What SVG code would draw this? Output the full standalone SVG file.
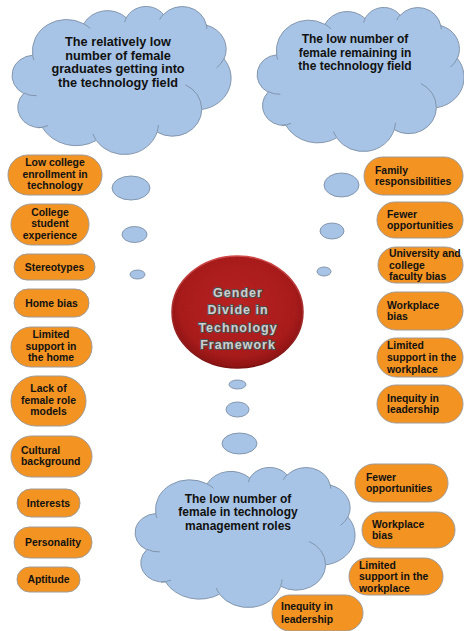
<svg xmlns="http://www.w3.org/2000/svg" xmlns:xlink="http://www.w3.org/1999/xlink" width="464" height="631" viewBox="0 0 464 631">
  <style>
    .cloud { fill: #a7c4e6; stroke: #7d8ea6; stroke-width: 0.9; }
    .crease { fill: none; stroke: #7d8ea6; stroke-width: 0.9; }
    .bubble { fill: #a7c4e6; stroke: #7d8ea6; stroke-width: 0.9; }
    .pill { fill: #f39322; stroke: #a09a94; stroke-width: 1; }
    .ct { font-family: "Liberation Sans", Arial, sans-serif; font-weight: bold; font-size: 12px; fill: #111; text-anchor: middle; }
    .ct-lg { font-size: 12.7px; }
    .bt { font-family: "Liberation Sans", Arial, sans-serif; font-weight: bold; font-size: 10.4px; fill: #111; }
    .mid { text-anchor: middle; }
    .hub { font-family: "Liberation Sans", Arial, sans-serif; font-weight: bold; font-size: 12.5px; letter-spacing: 1px; fill: #cfcfcf; stroke: #4e4e4e; stroke-width: 1.9; paint-order: stroke; stroke-linejoin: round; text-anchor: middle; }
  </style>
  <defs>
    <!-- cloud outline on a 432 x 432 unit box -->
    <path id="cloudShape" vector-effect="non-scaling-stroke" d="M39,143.7 A67.53,91.9 0 0 1 140.05,52.01 A53.33,72.67 0 0 1 224.56,34.33 A43.65,59.45 0 0 1 298.33,24.82 A48.57,65.95 0 0 1 383.18,55.77 A53.33,72.73 0 0 1 418.19,154.61 A67.75,92.2 0 0 1 374.04,302.03 A57.85,78.67 0 0 1 285.55,368.13 A67.52,92.15 0 0 1 164.81,392.66 A77.2,105.43 0 0 1 58.05,354.71 A43.6,59.18 0 0 1 21.12,255.5 A43.45,59.45 0 0 1 39,143.7 Z"/>
    <path id="cloudCrease" vector-effect="non-scaling-stroke" d="M46.93,261.77 A43.45,59.45 0 0 1 21.6,253.8 M69.28,348.99 A77.2,105.43 0 0 1 49.56,355.86 M164.78,390.9 A67.52,92.15 0 0 1 158.09,373.47 M288.27,347.51 A67.53,91.9 0 0 1 285.59,366.6 M341.29,229.54 A57.85,78.67 0 0 1 373.8,300.9 M417.98,153.54 A53.33,72.73 0 0 1 403.5,180.3 M383.24,54.26 A48.57,65.95 0 0 1 384,66.9 M290.78,39.52 A48.57,65.95 0 0 1 298.19,23.42 M221.41,47.2 A43.65,59.45 0 0 1 225,33.31 M140,51.92 A67.53,91.9 0 0 1 153.06,65.51 M41.27,157.89 A67.53,91.9 0 0 1 39,143.7"/>
    <radialGradient id="hubFill" cx="0.5" cy="0.45" r="0.55">
      <stop offset="0" stop-color="#b82222"/>
      <stop offset="0.8" stop-color="#a81b1b"/>
      <stop offset="1" stop-color="#8c1313"/>
    </radialGradient>
    <linearGradient id="hubRim" x1="0" y1="0" x2="0" y2="1">
      <stop offset="0" stop-color="#d04a4a"/>
      <stop offset="1" stop-color="#7a1010"/>
    </linearGradient>
  </defs>

  <!-- thought-bubble trails linking the hub to each cloud -->
  <g id="connectors">
    <ellipse class="bubble" cx="131" cy="188" rx="19" ry="12"/>
    <ellipse class="bubble" cx="134.5" cy="234.5" rx="12.5" ry="8"/>
    <ellipse class="bubble" cx="137.5" cy="274.5" rx="7.5" ry="4.5"/>
    <ellipse class="bubble" cx="341.5" cy="185" rx="17.5" ry="12"/>
    <ellipse class="bubble" cx="332" cy="231" rx="12" ry="8"/>
    <ellipse class="bubble" cx="324" cy="271.5" rx="7" ry="4.5"/>
    <ellipse class="bubble" cx="237.5" cy="384.5" rx="8.5" ry="4.5"/>
    <ellipse class="bubble" cx="237.5" cy="409.5" rx="11.5" ry="7.5"/>
    <ellipse class="bubble" cx="239.5" cy="443.5" rx="17.5" ry="10.5"/>
  </g>

  <!-- clouds -->
  <g id="cloud-graduates">
    <g transform="translate(13,6) scale(0.5046,0.3426)">
      <use href="#cloudShape" class="cloud"/>
      <use href="#cloudCrease" class="crease"/>
    </g>
    <text class="ct ct-lg" x="118" y="46">The relatively low</text>
    <text class="ct ct-lg" x="118" y="59.7">number of female</text>
    <text class="ct ct-lg" x="118" y="73.4">graduates getting into</text>
    <text class="ct ct-lg" x="118" y="87">the technology field</text>
  </g>

  <g id="cloud-remaining">
    <g transform="translate(258,7) scale(0.4769,0.3333)">
      <use href="#cloudShape" class="cloud"/>
      <use href="#cloudCrease" class="crease"/>
    </g>
    <text class="ct" x="355" y="42.7">The low number of</text>
    <text class="ct" x="355" y="56.5">female remaining in</text>
    <text class="ct" x="355" y="70.3">the technology field</text>
  </g>

  <g id="cloud-management">
    <g transform="translate(136,467) scale(0.5069,0.3241)">
      <use href="#cloudShape" class="cloud"/>
      <use href="#cloudCrease" class="crease"/>
    </g>
    <text class="ct" x="238" y="502.7">The low number of</text>
    <text class="ct" x="238" y="516.3">female in technology</text>
    <text class="ct" x="238" y="530">management roles</text>
  </g>

  <!-- central hub -->
  <g id="hub">
    <ellipse cx="237.5" cy="312" rx="65.5" ry="56" fill="url(#hubFill)" stroke="url(#hubRim)" stroke-width="1.5"/>
    <text class="hub" x="238" y="297.3">Gender</text>
    <text class="hub" x="238" y="314.4">Divide in</text>
    <text class="hub" x="238" y="331.5">Technology</text>
    <text class="hub" x="238" y="348.6">Framework</text>
  </g>

  <!-- left column: factors behind low graduate numbers -->
  <g id="left-low-enrollment">
    <rect class="pill" x="8" y="155" width="94" height="40" rx="20"/>
    <text class="bt mid" x="55" y="166.2">Low college</text>
    <text class="bt mid" x="55" y="177.7">enrollment in</text>
    <text class="bt mid" x="55" y="189.2">technology</text>
  </g>
  <g id="left-student-experience">
    <rect class="pill" x="11" y="204" width="78" height="41" rx="20.5"/>
    <text class="bt mid" x="50" y="215.7">College</text>
    <text class="bt mid" x="50" y="227.2">student</text>
    <text class="bt mid" x="50" y="238.7">experience</text>
  </g>
  <g id="left-stereotypes">
    <rect class="pill" x="14" y="254" width="81" height="26" rx="13"/>
    <text class="bt mid" x="54.5" y="270.7">Stereotypes</text>
  </g>
  <g id="left-home-bias">
    <rect class="pill" x="14" y="289" width="75" height="28" rx="14"/>
    <text class="bt mid" x="51.5" y="306.7">Home bias</text>
  </g>
  <g id="left-home-support">
    <rect class="pill" x="11" y="327" width="81" height="40" rx="20"/>
    <text class="bt mid" x="51" y="338.2">Limited</text>
    <text class="bt mid" x="51" y="349.7">support in</text>
    <text class="bt mid" x="51" y="361.2">the home</text>
  </g>
  <g id="left-role-models">
    <rect class="pill" x="11" y="376" width="75" height="50" rx="25"/>
    <text class="bt mid" x="48.5" y="392.2">Lack of</text>
    <text class="bt mid" x="48.5" y="403.7">female role</text>
    <text class="bt mid" x="48.5" y="415.2">models</text>
  </g>
  <g id="left-cultural">
    <rect class="pill" x="11" y="436" width="81" height="41" rx="20.5"/>
    <text class="bt" x="21" y="453.5">Cultural</text>
    <text class="bt" x="21" y="465">background</text>
  </g>
  <g id="left-interests">
    <rect class="pill" x="17" y="489" width="63" height="28" rx="14"/>
    <text class="bt mid" x="48.5" y="506.7">Interests</text>
  </g>
  <g id="left-personality">
    <rect class="pill" x="14" y="527" width="78" height="31" rx="15.5"/>
    <text class="bt mid" x="53" y="546.2">Personality</text>
  </g>
  <g id="left-aptitude">
    <rect class="pill" x="17" y="567" width="63" height="25" rx="12.5"/>
    <text class="bt mid" x="48.5" y="583.2">Aptitude</text>
  </g>

  <!-- right column: factors behind low retention -->
  <g id="right-family">
    <rect class="pill" x="364" y="157" width="99" height="38" rx="19"/>
    <text class="bt" x="375" y="173.5">Family</text>
    <text class="bt" x="375" y="185">responsibilities</text>
  </g>
  <g id="right-opportunities">
    <rect class="pill" x="377" y="202" width="86" height="36" rx="18"/>
    <text class="bt" x="387" y="217.5">Fewer</text>
    <text class="bt" x="387" y="229">opportunities</text>
  </g>
  <g id="right-faculty-bias">
    <rect class="pill" x="378" y="247" width="85" height="36" rx="18"/>
    <text class="bt" x="389" y="257">University and</text>
    <text class="bt" x="389" y="268.5">college</text>
    <text class="bt" x="389" y="280">faculty bias</text>
  </g>
  <g id="right-workplace-bias">
    <rect class="pill" x="377" y="292" width="86" height="38" rx="19"/>
    <text class="bt" x="387" y="308.5">Workplace</text>
    <text class="bt" x="387" y="320">bias</text>
  </g>
  <g id="right-workplace-support">
    <rect class="pill" x="377" y="338" width="86" height="39" rx="19.5"/>
    <text class="bt" x="387" y="348.7">Limited</text>
    <text class="bt" x="387" y="360.7">support in the</text>
    <text class="bt" x="387" y="372.7">workplace</text>
  </g>
  <g id="right-leadership">
    <rect class="pill" x="377" y="385" width="86" height="38" rx="19"/>
    <text class="bt" x="387" y="401.5">Inequity in</text>
    <text class="bt" x="387" y="413">leadership</text>
  </g>

  <!-- bottom group: factors behind low management numbers -->
  <g id="bottom-opportunities">
    <rect class="pill" x="355" y="464" width="93" height="38" rx="19"/>
    <text class="bt" x="366" y="480.5">Fewer</text>
    <text class="bt" x="366" y="492">opportunities</text>
  </g>
  <g id="bottom-workplace-bias">
    <rect class="pill" x="362" y="512" width="93" height="36" rx="18"/>
    <text class="bt" x="372" y="527.5">Workplace</text>
    <text class="bt" x="372" y="539">bias</text>
  </g>
  <g id="bottom-workplace-support">
    <rect class="pill" x="349" y="558" width="94" height="37" rx="18.5"/>
    <text class="bt" x="359" y="568.7">Limited</text>
    <text class="bt" x="359" y="580.3">support in the</text>
    <text class="bt" x="359" y="592">workplace</text>
  </g>
  <g id="bottom-leadership">
    <rect class="pill" x="272" y="595" width="91" height="36" rx="18"/>
    <text class="bt" x="281" y="610.3">Inequity in</text>
    <text class="bt" x="281" y="622.5">leadership</text>
  </g>
</svg>
